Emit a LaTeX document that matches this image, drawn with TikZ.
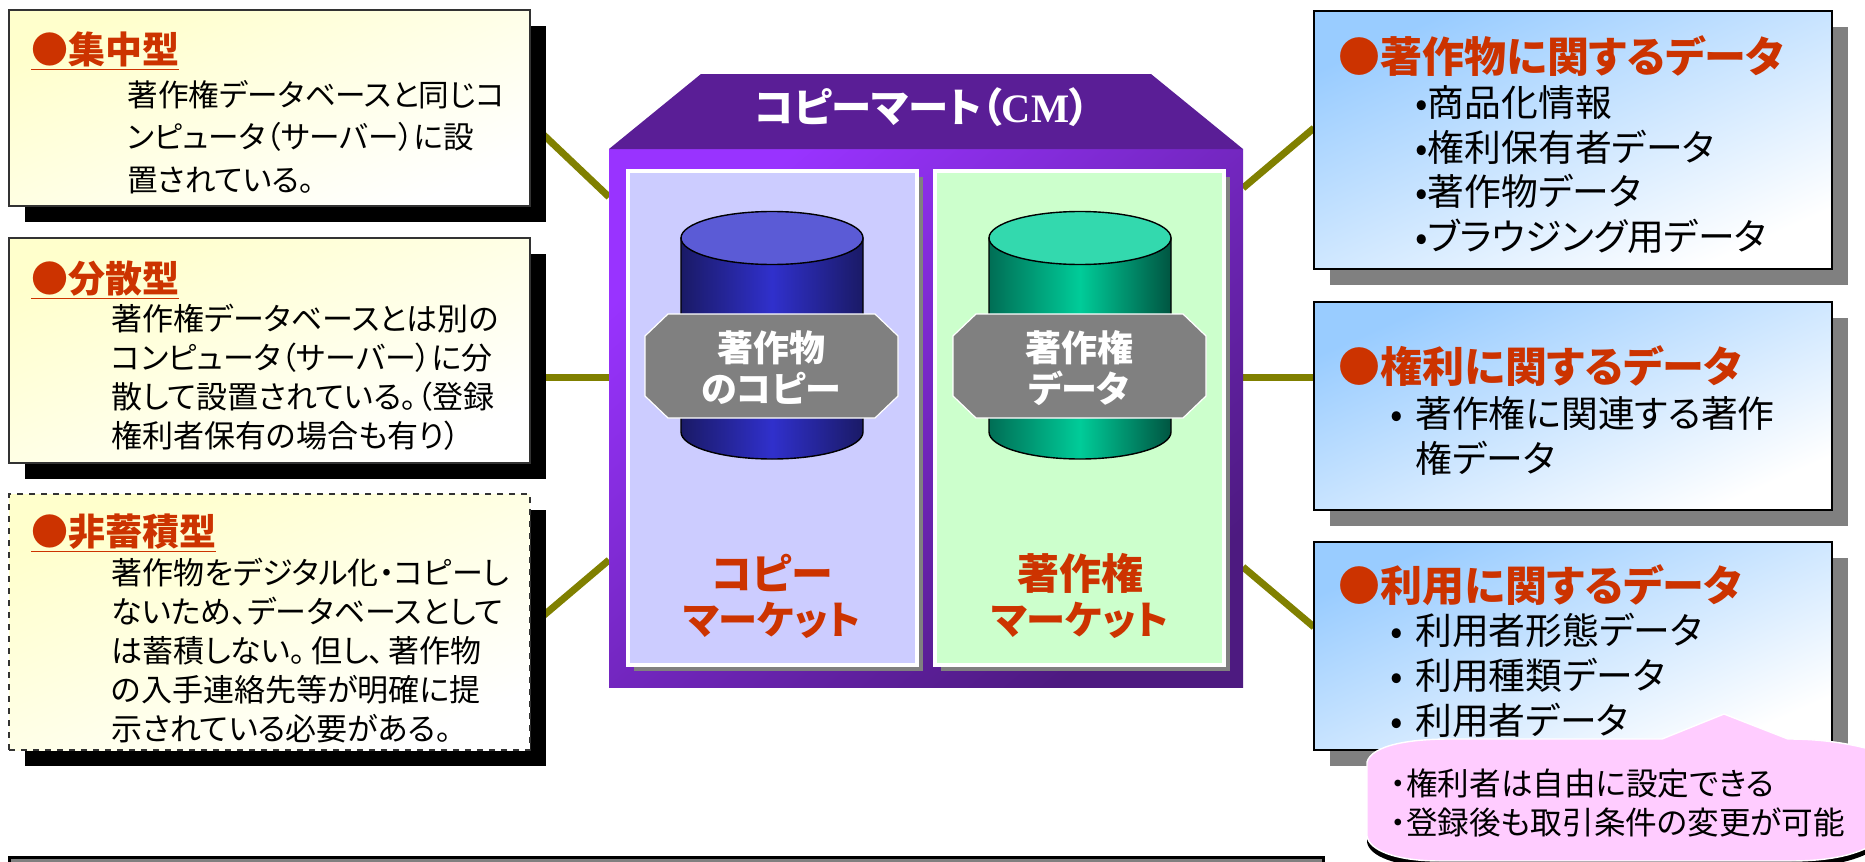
\documentclass[tikz,border=0pt]{standalone}
\usepackage{fontspec}
\setmainfont{Noto Sans CJK JP}[RawFeature={+palt}]
\newfontfamily\cmfont{Liberation Serif}
\usetikzlibrary{backgrounds,shadows}
\definecolor{redhead}{HTML}{CC3300}
\definecolor{roofcol}{HTML}{5A1E96}
\definecolor{linkcol}{HTML}{808000}
\definecolor{bubblecol}{HTML}{FFCCFF}
\definecolor{yellowcol}{HTML}{FFFFCC}
\definecolor{bluecol}{HTML}{99CCFF}
\definecolor{martA}{HTML}{9933FF}
\definecolor{martB}{HTML}{4D1A80}
\definecolor{panelA}{HTML}{CCCCFF}
\definecolor{panelB}{HTML}{CCFFCC}
\definecolor{cylA}{HTML}{1A1A66}
\definecolor{cylB}{HTML}{3030CC}
\definecolor{cylC}{HTML}{5B5BD6}
\definecolor{cylD}{HTML}{006E55}
\definecolor{cylE}{HTML}{00CC99}
\definecolor{cylF}{HTML}{005541}
\definecolor{cylG}{HTML}{33D9AE}
\tikzset{
	sized/.style 2 args={minimum width=#1*0.5pt, minimum height=#2*0.5pt, inner sep=0pt, outer sep=0pt, anchor=north west},
	yellowbox/.style={top color=yellowcol, bottom color=white, shading angle=24, draw=black!80, line width=0.8pt,
		general shadow={fill=black, shadow xshift=8pt, shadow yshift=-8pt}},
	bluebox/.style={top color=bluecol, bottom color=white, shading angle=24, draw=black, line width=0.8pt,
		general shadow={fill=black!50, shadow xshift=8pt, shadow yshift=-8pt}},
	panel/.style={draw=white, line width=2pt,
		general shadow={fill=black!50, shadow xshift=3pt, shadow yshift=-3pt}},
	link/.style={draw=linkcol, line width=3.5pt},
	headL/.style={anchor=base west, inner sep=0pt, text=redhead, font=\fontsize{18.5}{22}\selectfont\bfseries},
	headR/.style={anchor=base west, inner sep=0pt, text=redhead, font=\fontsize{21}{25}\selectfont\bfseries},
	bodyL/.style={anchor=north west, align=left, inner sep=0pt, font=\fontsize{15.5}{19.45}\selectfont},
	bodyR/.style={anchor=north west, align=left, inner sep=0pt, font=\fontsize{18.4}{22.4}\selectfont},
	market/.style={align=center, inner sep=0pt, text=redhead, font=\fontsize{21}{22.5}\selectfont\bfseries},
	octa/.style={fill=black!50, draw=white, line width=0.6pt},
	octatext/.style={inner sep=0pt, align=center, text=white, font=\fontsize{18}{20.5}\selectfont\bfseries},
}
\newcommand{\itm}{\makebox[9pt][l]{\kern-3.5pt •}}
\newcommand{\bubblepath}{(1367,762) .. controls (1372,745) and (1410,739) .. (1450,739) -- (1662,739) -- (1724,714) -- (1788,739) .. controls (1820,739) and (1850,743) .. (1880,752) -- (1880,840) .. controls (1860,855) and (1830,861) .. (1790,861) -- (1440,861) .. controls (1395,861) and (1369,850) .. (1367,836) -- cycle}
\begin{document}
\begin{tikzpicture}[x=0.5pt, y=-0.5pt]
	\useasboundingbox (0,0) rectangle (1865,862);
	\clip (0,0) rectangle (1865,862);

	\node[sized={521}{196}, yellowbox] (boxA) at (9,10) {}; %left side
	\node[sized={521}{225}, yellowbox] (boxB) at (9,238) {};
	\node[sized={521}{256}, yellowbox, dashed, line width=1pt] (boxC) at (9,494) {};
	\node[headL] (headA) at (31,63) {\underline{●集中型}};
	\node[headL] (headB) at (31,292) {\underline{●分散型}};
	\node[headL] (headC) at (31,545) {\underline{●非蓄積型}};
	\node[bodyL, font=\fontsize{15.3}{21.25}\selectfont] (textA) at (127,80) {著作権データベースと同じコ\\ンピュータ（サーバー）に設\\置されている。};
	\node[bodyL] (textB) at (111,304) {著作権データベースとは別の\\コンピュータ（サーバー）に分\\散して設置されている。（登録\\権利者保有の場合も有り）};
	\node[bodyL] (textC) at (111,558) {著作物をデジタル化・コピーし\\ないため、データベースとして\\は蓄積しない。\kern3pt但し、\kern2pt著作物\\の入手連絡先等が明確に提\\示されている必要がある。};

	\node[sized={634}{538}, top color=martA, bottom color=martB, shading angle=40] (mart) at (609,149) {}; %centre
	\fill[roofcol] (701,74) -- (1151,74) -- (1243,149) -- (609,149) -- cycle;
	\node[text=white, inner sep=0pt, font=\fontsize{20.2}{24}\selectfont\bfseries] (martname) at (922,107) {コピーマート（{\cmfont CM}）};
	\node[sized={289}{494}, panel, fill=panelA] (panelL) at (628,171) {};
	\node[sized={289}{494}, panel, fill=panelB] (panelR) at (935,171) {};

	\draw[left color=cylA, right color=cylA, middle color=cylB, line width=0.7pt]
		(681,238) -- (681,432) .. controls (681,447) and (722,459) .. (772,459) .. controls (822,459) and (863,447) .. (863,432) -- (863,238) -- cycle;
	\draw[fill=cylC, line width=0.7pt] (772,238) ellipse [x radius=91, y radius=26.5];
	\draw[left color=cylD, right color=cylF, middle color=cylE, line width=0.7pt]
		(989,238) -- (989,432) .. controls (989,447) and (1030,459) .. (1080,459) .. controls (1130,459) and (1171,447) .. (1171,432) -- (1171,238) -- cycle;
	\draw[fill=cylG, line width=0.7pt] (1080,238) ellipse [x radius=91, y radius=26.5];

	\draw[octa] (668,314) -- (875,314) -- (898,336) -- (898,396) -- (875,418) -- (668,418) -- (645,396) -- (645,336) -- cycle;
	\draw[octa] (976,314) -- (1183,314) -- (1206,336) -- (1206,396) -- (1183,418) -- (976,418) -- (953,396) -- (953,336) -- cycle;
	\node[octatext] (octL) at (771,368) {著作物\\のコピー};
	\node[octatext] (octR) at (1079,368) {著作権\\データ};
	\node[market] (marketL) at (772,596) {コピー\\{\fontsize{19.6}{22.5}\selectfont マーケット}};
	\node[market] (marketR) at (1080,596) {著作権\\{\fontsize{19.6}{22.5}\selectfont マーケット}};

	\node[sized={518}{258}, bluebox] (boxD) at (1314,11) {}; %right side
	\node[sized={518}{208}, bluebox] (boxE) at (1314,302) {};
	\node[sized={518}{208}, bluebox] (boxF) at (1314,542) {};
	\node[headR] (headD) at (1338,72) {●著作物に関するデータ};
	\node[headR] (headE) at (1338,382) {●権利に関するデータ};
	\node[headR] (headF) at (1338,601) {●利用に関するデータ};
	\node[bodyR] (textD) at (1415,85) {•商品化情報\\•権利保有者データ\\•著作物データ\\•ブラウジング用データ};
	\node[bodyR] (textE) at (1397,396) {\itm 著作権に関連する著作\\\hspace*{9pt}権データ};
	\node[bodyR] (textF) at (1397,613) {\itm 利用者形態データ\\\itm 利用種類データ\\\itm 利用者データ};

	\begin{pgfonlayer}{background}
		\draw[link] (boxA.east |- 0,122) -- (mart.west |- 0,197);
		\draw[link] (boxB.east |- 0,377) -- (mart.west |- 0,377);
		\draw[link] (boxC.east |- 0,627) -- (mart.west |- 0,560);
		\draw[link] (mart.east |- 0,188) -- (boxD.west |- 0,128);
		\draw[link] (mart.east |- 0,377) -- (boxE.west |- 0,377);
		\draw[link] (mart.east |- 0,567) -- (boxF.west |- 0,627);
	\end{pgfonlayer}

	\node[sized={1314}{20}, fill=black!50, draw=black, line width=1.5pt] (bar) at (9,857) {}; %bottom
	\fill[black, yshift=-3pt] \bubblepath;
	\draw[fill=bubblecol, draw=white, line width=0.7pt] \bubblepath;
	\node[anchor=north west, align=left, inner sep=0pt, font=\fontsize{15.8}{19.5}\selectfont] (bubble) at (1390,768) {・権利者は自由に設定できる\\・登録後も取引条件の変更が可能};
\end{tikzpicture}
\end{document}
